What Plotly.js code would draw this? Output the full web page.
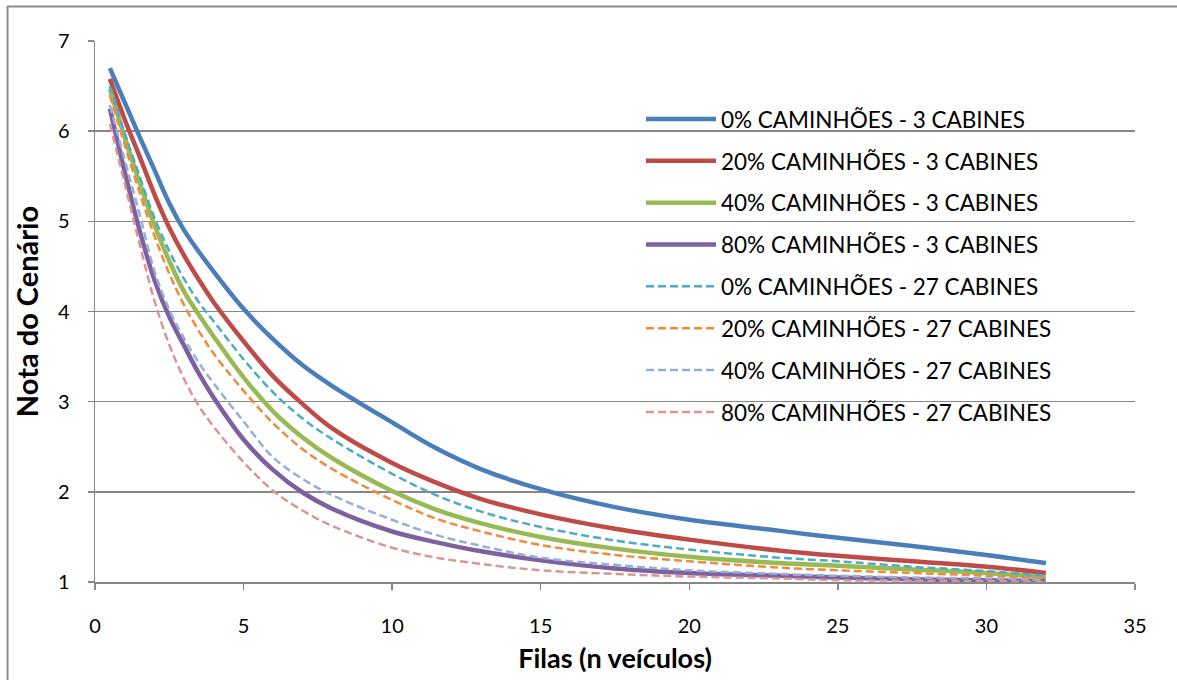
<!DOCTYPE html>
<html>
<head>
<meta charset="utf-8">
<script src="https://cdn.plot.ly/plotly-3.0.1.min.js"></script>
<style>
  html, body { margin: 0; padding: 0; background: #ffffff; }
  #chart { width: 1177px; height: 680px; }
</style>
</head>
<body>
<div id="chart"></div>
<script>
// Queue length (number of vehicles) on the horizontal axis
const filas = [0.5, 1, 1.5, 2, 2.5, 3, 3.5, 4, 5, 6, 7, 8, 10, 11.5, 13, 15, 17.5, 20, 23, 25, 27.5, 30, 32];

// Scenario score for each truck share and booth count
const cam0_3   = [6.70, 6.32, 5.94, 5.57, 5.20, 4.90, 4.66, 4.44, 4.03, 3.69, 3.40, 3.17, 2.77, 2.48, 2.25, 2.03, 1.83, 1.69, 1.57, 1.49, 1.40, 1.30, 1.21];
const cam20_3  = [6.58, 6.13, 5.72, 5.30, 4.93, 4.62, 4.35, 4.10, 3.67, 3.28, 2.97, 2.70, 2.32, 2.10, 1.92, 1.75, 1.59, 1.47, 1.35, 1.29, 1.23, 1.17, 1.10];
const cam40_3  = [6.47, 5.93, 5.43, 4.96, 4.56, 4.22, 3.96, 3.72, 3.27, 2.89, 2.60, 2.37, 2.01, 1.80, 1.65, 1.50, 1.37, 1.28, 1.21, 1.18, 1.14, 1.10, 1.05];
const cam80_3  = [6.25, 5.55, 4.90, 4.35, 3.94, 3.62, 3.31, 3.04, 2.58, 2.24, 1.99, 1.81, 1.56, 1.44, 1.34, 1.24, 1.15, 1.10, 1.07, 1.05, 1.03, 1.02, 1.01];
const cam0_27  = [6.50, 5.98, 5.50, 5.04, 4.67, 4.36, 4.10, 3.89, 3.47, 3.10, 2.81, 2.58, 2.20, 1.96, 1.78, 1.61, 1.46, 1.36, 1.27, 1.23, 1.17, 1.12, 1.07];
const cam20_27 = [6.40, 5.85, 5.32, 4.84, 4.42, 4.07, 3.78, 3.53, 3.12, 2.76, 2.47, 2.25, 1.91, 1.70, 1.56, 1.41, 1.30, 1.23, 1.16, 1.13, 1.10, 1.07, 1.04];
const cam40_27 = [6.29, 5.68, 5.08, 4.45, 4.02, 3.70, 3.43, 3.20, 2.78, 2.38, 2.14, 1.96, 1.69, 1.52, 1.40, 1.27, 1.19, 1.13, 1.09, 1.07, 1.05, 1.04, 1.02];
const cam80_27 = [6.08, 5.42, 4.75, 4.12, 3.63, 3.25, 2.95, 2.72, 2.33, 2.01, 1.79, 1.62, 1.38, 1.27, 1.20, 1.13, 1.09, 1.06, 1.04, 1.02, 1.015, 1.01, 1.00];

const nomes = [
  "0% CAMINHÕES - 3 CABINES",
  "20% CAMINHÕES - 3 CABINES",
  "40% CAMINHÕES - 3 CABINES",
  "80% CAMINHÕES - 3 CABINES",
  "0% CAMINHÕES - 27 CABINES",
  "20% CAMINHÕES - 27 CABINES",
  "40% CAMINHÕES - 27 CABINES",
  "80% CAMINHÕES - 27 CABINES"
];

const xTicks = [0, 5, 10, 15, 20, 25, 30, 35];
const yTicks = [1, 2, 3, 4, 5, 6, 7];

const series = [cam0_3, cam20_3, cam40_3, cam80_3, cam0_27, cam20_27, cam40_27, cam80_27];
const cores = ["#4A7EBB", "#BE4B48", "#98B954", "#7D60A0", "#4BACC6", "#F08A3C", "#95AFD8", "#D99694"];
const solid = { width: 4.5, dash: "solid" };
const dashed = { width: 2.5, dash: "8px,4px" };

const traces = series.map((ys, i) => ({
  x: filas,
  y: ys,
  name: nomes[i],
  legendgroup: "g" + i,
  type: "scatter",
  mode: "lines",
  line: Object.assign({ color: cores[i], shape: "spline", smoothing: 1 }, i < 4 ? solid : dashed)
}));

const fontFam = "Lato, 'Open Sans', sans-serif";
const gridCol = "#878787";

const layout = {
  width: 1177,
  height: 680,
  margin: { l: 95, r: 42, t: 41, b: 98 },
  paper_bgcolor: "#ffffff",
  plot_bgcolor: "#ffffff",
  font: { family: fontFam, color: "#000000", size: 20 },
  showlegend: true,
  legend: {
    x: 0.525, y: 0.895, xanchor: "left", yanchor: "top",
    bgcolor: "rgba(0,0,0,0)",
    font: { family: fontFam, size: 22.5, color: "#000000" },
    itemwidth: 70,
    tracegroupgap: 9.6,
    traceorder: "grouped"
  },
  xaxis: {
    range: [0, 35],
    tickvals: xTicks,
    ticktext: xTicks.map(String),
    showgrid: false,
    zeroline: false,
    showline: true,
    linecolor: gridCol,
    linewidth: 1.5,
    ticks: "outside",
    ticklen: 6,
    tickcolor: gridCol,
    tickwidth: 1.5,
    ticklabelstandoff: 19,
    tickfont: { size: 20 },
    title: { text: "<b>Filas (n veículos)</b>", font: { size: 27 }, standoff: 13 }
  },
  yaxis: {
    range: [1, 7],
    tickvals: yTicks,
    ticktext: yTicks.map(String),
    showgrid: true,
    gridcolor: gridCol,
    gridwidth: 1.5,
    zeroline: false,
    showline: true,
    linecolor: gridCol,
    linewidth: 1.5,
    ticks: "outside",
    ticklen: 6,
    tickcolor: gridCol,
    tickwidth: 1.5,
    ticklabelstandoff: 14,
    tickfont: { size: 20 },
    title: { text: "<b>Nota do Cenário</b>", font: { size: 29 }, standoff: 10 }
  },
  shapes: [
    { type: "line", xref: "paper", yref: "paper", x0: -0.0841, x1: -0.0841, y0: -0.2, y1: 1.065,
      line: { color: "#8c8c8c", width: 2 } },
    { type: "line", xref: "paper", yref: "paper", x0: -0.0841, x1: 1.05, y0: 1.064, y1: 1.064,
      line: { color: "#8c8c8c", width: 2 } }
  ]
};

Plotly.newPlot("chart", traces, layout, { displayModeBar: false, staticPlot: true });
</script>
</body>
</html>
